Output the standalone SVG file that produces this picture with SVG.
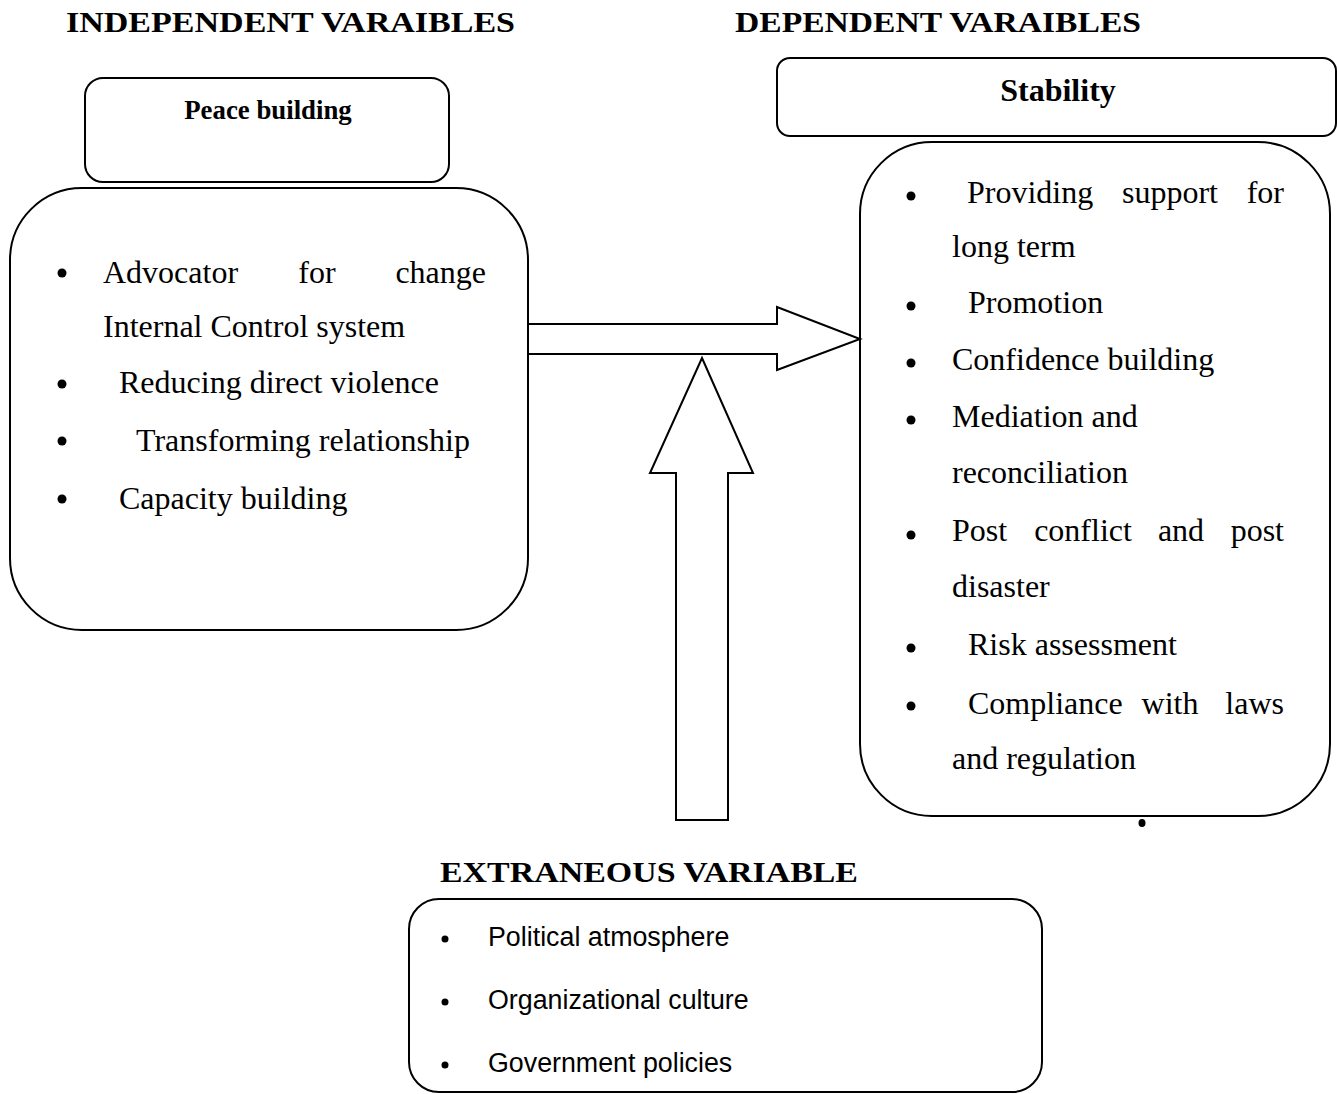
<svg xmlns="http://www.w3.org/2000/svg" width="1337" height="1094" viewBox="0 0 1337 1094">
<style>
.box{fill:none;stroke:#000;stroke-width:2}
.arrow{fill:#fff;stroke:#000;stroke-width:2;stroke-linejoin:miter}
.title{font-family:"Liberation Serif",serif;font-weight:bold;font-size:30px;fill:#000}
.stab{font-family:"Liberation Serif",serif;font-weight:bold;font-size:32px;fill:#000}
.head{font-family:"Liberation Serif",serif;font-weight:bold;font-size:26.8px;fill:#000}
.t{font-family:"Liberation Serif",serif;font-size:32px;fill:#000}
.s{font-family:"Liberation Sans",Arial,sans-serif;font-size:26.8px;fill:#000}
.b{fill:#000}
</style>
<rect width="1337" height="1094" fill="#fff"/>
<text class="title" x="66" y="32" textLength="449" lengthAdjust="spacingAndGlyphs">INDEPENDENT VARAIBLES</text>
<text class="title" x="735" y="32" textLength="406" lengthAdjust="spacingAndGlyphs">DEPENDENT VARAIBLES</text>
<text class="title" x="440" y="882" textLength="418" lengthAdjust="spacingAndGlyphs">EXTRANEOUS VARIABLE</text>

<g id="connectors">
<polygon class="arrow" points="528,324 777,324 777,307 860,339 777,370 777,354 528,354"/>
<polygon class="arrow" points="702,358 753,473 728,473 728,820 676,820 676,473 650,473"/>
</g>

<g id="peace-building">
<rect class="box" x="85" y="78" width="364" height="104" rx="18"/>
<text class="head" x="268" y="119" text-anchor="middle">Peace building</text>
</g>

<g id="independent-list">
<rect class="box" x="10" y="188" width="518" height="442" rx="72"/>
<circle class="b" cx="62" cy="273" r="4.5"/>
<text class="t" x="103" y="283">Advocator</text>
<text class="t" x="317" y="283" text-anchor="middle">for</text>
<text class="t" x="486" y="283" text-anchor="end">change</text>
<text class="t" x="103" y="337">Internal Control system</text>
<circle class="b" cx="62" cy="384" r="4.5"/>
<text class="t" x="119" y="393">Reducing direct violence</text>
<circle class="b" cx="62" cy="441" r="4.5"/>
<text class="t" x="136" y="451">Transforming relationship</text>
<circle class="b" cx="62" cy="499" r="4.5"/>
<text class="t" x="119" y="509">Capacity building</text>
</g>

<g id="stability">
<rect class="box" x="777" y="58" width="559" height="78" rx="13"/>
<text class="stab" x="1058" y="101" text-anchor="middle">Stability</text>
</g>

<g id="dependent-list">
<rect class="box" x="860" y="142" width="470" height="674" rx="72"/>
<circle class="b" cx="911" cy="196" r="4.5"/>
<text class="t" x="967" y="203">Providing</text>
<text class="t" x="1170" y="203" text-anchor="middle">support</text>
<text class="t" x="1284" y="203" text-anchor="end">for</text>
<text class="t" x="952" y="257">long term</text>
<circle class="b" cx="911" cy="306" r="4.5"/>
<text class="t" x="968" y="313">Promotion</text>
<circle class="b" cx="911" cy="363" r="4.5"/>
<text class="t" x="952" y="370">Confidence building</text>
<circle class="b" cx="911" cy="420" r="4.5"/>
<text class="t" x="952" y="427">Mediation and</text>
<text class="t" x="952" y="483">reconciliation</text>
<circle class="b" cx="911" cy="535" r="4.5"/>
<text class="t" x="952" y="541">Post</text>
<text class="t" x="1083" y="541" text-anchor="middle">conflict</text>
<text class="t" x="1181" y="541" text-anchor="middle">and</text>
<text class="t" x="1284" y="541" text-anchor="end">post</text>
<text class="t" x="952" y="597">disaster</text>
<circle class="b" cx="911" cy="648" r="4.5"/>
<text class="t" x="968" y="655">Risk assessment</text>
<circle class="b" cx="911" cy="706" r="4.5"/>
<text class="t" x="968" y="714">Compliance</text>
<text class="t" x="1170" y="714" text-anchor="middle">with</text>
<text class="t" x="1284" y="714" text-anchor="end">laws</text>
<text class="t" x="952" y="769">and regulation</text>
<ellipse class="b" cx="1142" cy="823" rx="3.5" ry="4"/>
</g>

<g id="extraneous-list">
<rect class="box" x="409" y="899" width="633" height="193" rx="30"/>
<circle class="b" cx="445" cy="939" r="3.5"/>
<text class="s" x="488" y="946">Political atmosphere</text>
<circle class="b" cx="445" cy="1002" r="3.5"/>
<text class="s" x="488" y="1009">Organizational culture</text>
<circle class="b" cx="445" cy="1065" r="3.5"/>
<text class="s" x="488" y="1072">Government policies</text>
</g>
</svg>
